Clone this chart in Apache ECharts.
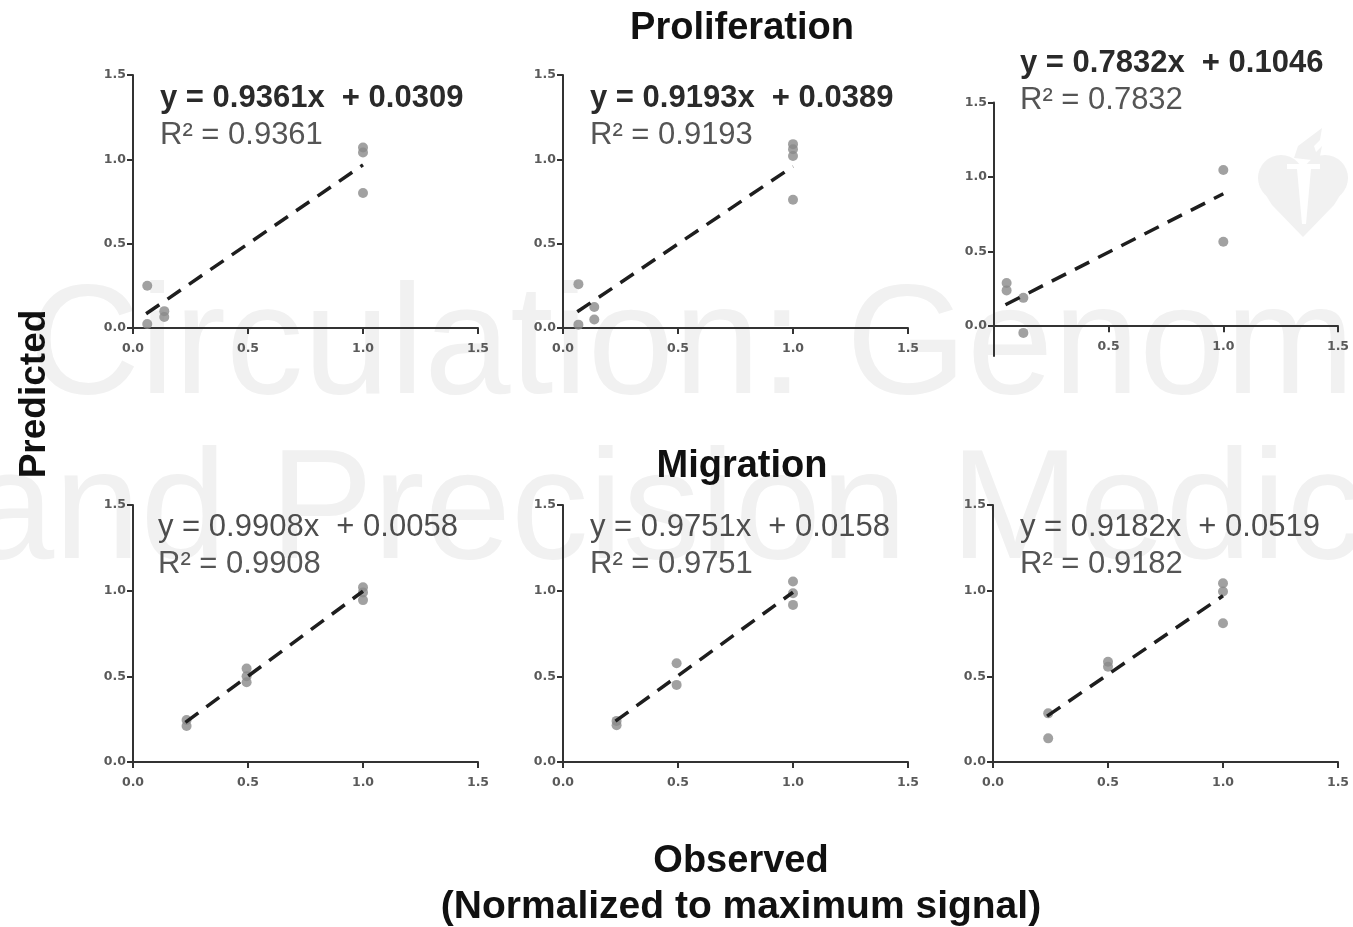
<!DOCTYPE html>
<html>
<head>
<meta charset="utf-8">
<script src="https://cdn.jsdelivr.net/npm/echarts@6/dist/echarts.min.js"></script>
<style>
  html, body { margin: 0; padding: 0; background: #ffffff; }
  #chart { width: 1353px; height: 927px; }
</style>
</head>
<body>
<div id="chart"></div>
<script>
// Axis ticks shared by every panel
const tickValues = [0, 0.5, 1.0, 1.5];

// Proliferation: observed vs predicted (normalized to maximum signal)
const prolifObserved1  = [0.062, 0.062, 0.136, 0.136, 1.0, 1.0, 1.0];
const prolifPredicted1 = [0.25, 0.024, 0.10, 0.065, 1.07, 1.04, 0.80];
const prolifObserved2  = [0.067, 0.067, 0.136, 0.136, 1.0, 1.0, 1.0, 1.0];
const prolifPredicted2 = [0.26, 0.02, 0.125, 0.05, 1.09, 1.06, 1.02, 0.76];
const prolifObserved3  = [0.055, 0.055, 0.128, 0.128, 1.0, 1.0];
const prolifPredicted3 = [0.29, 0.24, 0.19, -0.045, 1.047, 0.566];

// Migration: observed vs predicted
const migrObserved1  = [0.233, 0.233, 0.494, 0.494, 0.494, 1.0, 1.0, 1.0];
const migrPredicted1 = [0.245, 0.21, 0.545, 0.50, 0.465, 1.02, 0.99, 0.945];
const migrObserved2  = [0.233, 0.233, 0.494, 0.494, 1.0, 1.0, 1.0];
const migrPredicted2 = [0.24, 0.215, 0.576, 0.45, 1.053, 0.985, 0.917];
const migrObserved3  = [0.24, 0.24, 0.5, 0.5, 1.0, 1.0, 1.0];
const migrPredicted3 = [0.284, 0.138, 0.585, 0.556, 1.043, 0.995, 0.81];

// Linear fits for each panel (proliferation 1-3, migration 1-3)
const fitSlopes     = [0.9361, 0.9193, 0.7832, 0.9908, 0.9751, 0.9182];
const fitIntercepts = [0.0309, 0.0389, 0.1046, 0.0058, 0.0158, 0.0519];
const fitR2         = [0.9361, 0.9193, 0.7832, 0.9908, 0.9751, 0.9182];

const observedSets  = [prolifObserved1, prolifObserved2, prolifObserved3, migrObserved1, migrObserved2, migrObserved3];
const predictedSets = [prolifPredicted1, prolifPredicted2, prolifPredicted3, migrPredicted1, migrPredicted2, migrPredicted3];

// Layout of the six panels (pixels)
const layout = [
  { left: 133, top: 75,    width: 345, height: 253,   yMin: 0,    eqX: 160,  eqY: 98,  eqBold: true },
  { left: 563, top: 75,    width: 345, height: 253,   yMin: 0,    eqX: 590,  eqY: 98,  eqBold: true },
  { left: 994, top: 102.5, width: 344, height: 253.5, yMin: -0.2, eqX: 1020, eqY: 63,  eqBold: true },
  { left: 133, top: 505,   width: 345, height: 257,   yMin: 0,    eqX: 158,  eqY: 527, eqBold: false },
  { left: 563, top: 505,   width: 345, height: 257,   yMin: 0,    eqX: 590,  eqY: 527, eqBold: false },
  { left: 993, top: 505,   width: 345, height: 257,   yMin: 0,    eqX: 1020, eqY: 527, eqBold: false }
];

const AXIS_COLOR = '#333333';
const tickFont = "'DejaVu Sans', Verdana, sans-serif";
const textFont = "'Liberation Sans', Arial, Helvetica, sans-serif";
const MARK_GREY = '#f1f1f1';
const X_LABEL_GAP = 14;

const grids = [], xAxes = [], yAxes = [], series = [], graphics = [];

layout.forEach((p, i) => {
  grids.push({ left: p.left, top: p.top, width: p.width, height: p.height, containLabel: false });

  const labelStyle = {
    fontFamily: tickFont, fontWeight: 'bold', fontSize: 12.5, color: '#5a5a5a',
    formatter: v => v.toFixed(1)
  };

  // x labels sit under the zero line, which is above the grid bottom when y starts below 0
  const zeroOffset = p.height * (0 - p.yMin) / (1.5 - p.yMin);
  xAxes.push({
    type: 'value', gridIndex: i, min: 0, max: 1.5, interval: 0.5,
    axisLine: { show: true, onZero: true, lineStyle: { color: AXIS_COLOR, width: 2 } },
    axisTick: { show: true, length: 6, lineStyle: { color: AXIS_COLOR, width: 2 } },
    axisLabel: Object.assign({ margin: X_LABEL_GAP - zeroOffset, showMinLabel: p.yMin === 0 }, labelStyle),
    splitLine: { show: false }
  });

  yAxes.push({
    type: 'value', gridIndex: i, min: p.yMin, max: 1.5,
    axisLine: { show: true, onZero: true, lineStyle: { color: AXIS_COLOR, width: 2 } },
    axisTick: { show: true, length: 6, customValues: tickValues, lineStyle: { color: AXIS_COLOR, width: 2 } },
    axisLabel: Object.assign({ margin: 7, customValues: tickValues }, labelStyle),
    splitLine: { show: false }
  });

  const obs = observedSets[i], pred = predictedSets[i];
  series.push({
    type: 'scatter', xAxisIndex: i, yAxisIndex: i, z: 2,
    symbol: 'circle', symbolSize: 10,
    itemStyle: { color: '#8a8a8a' },
    data: obs.map((x, k) => [x, pred[k]])
  });

  // Fitted line drawn across the observed range
  const x0 = Math.min(...obs) - 0.005, x1 = Math.max(...obs);
  const m = fitSlopes[i], b = fitIntercepts[i];
  series.push({
    type: 'line', xAxisIndex: i, yAxisIndex: i, z: 3,
    symbol: 'none', silent: true,
    lineStyle: { color: '#1e1e1e', width: 3.5, type: [16, 10] },
    data: [[x0, m * x0 + b], [x1, m * x1 + b]]
  });

  graphics.push({
    type: 'text', x: p.eqX, y: p.eqY, z: 10,
    style: {
      text: 'y = ' + m.toFixed(4) + 'x  + ' + b.toFixed(4),
      font: (p.eqBold ? 'bold ' : '') + '31px ' + textFont,
      fill: p.eqBold ? '#2a2a2a' : '#4d4d4d',
      verticalAlign: 'middle'
    }
  });
  graphics.push({
    type: 'text', x: p.eqX, y: p.eqY + 37, z: 10,
    style: {
      text: 'R\u00B2 = ' + fitR2[i].toFixed(4),
      font: '31px ' + textFont,
      fill: '#555555',
      verticalAlign: 'middle'
    }
  });
});

// Faint publisher watermark behind the panels
graphics.push({
  type: 'text', x: 28, y: 350, z: -10,
  style: { text: 'Circulation: Genomic', font: '155px ' + textFont, fill: MARK_GREY, verticalAlign: 'middle' }
});
graphics.push({
  type: 'text', x: -32, y: 515, z: -10,
  style: { text: 'and Precision Medicine', font: '155px ' + textFont, fill: MARK_GREY, verticalAlign: 'middle' }
});
// Heart-and-torch emblem
graphics.push({ type: 'circle', z: -10, shape: { cx: 1281, cy: 178, r: 23 }, style: { fill: MARK_GREY } });
graphics.push({ type: 'circle', z: -10, shape: { cx: 1325, cy: 178, r: 23 }, style: { fill: MARK_GREY } });
graphics.push({
  type: 'polygon', z: -10,
  shape: { points: [[1259, 184], [1303, 170], [1347, 184], [1334, 205], [1303, 237], [1272, 205]] },
  style: { fill: MARK_GREY }
});
graphics.push({
  type: 'polygon', z: -10,
  shape: { points: [[1294, 158], [1298, 146], [1310, 137], [1322, 128], [1320, 140], [1314, 146], [1316, 152], [1322, 146], [1320, 156], [1312, 160]] },
  style: { fill: MARK_GREY }
});
graphics.push({
  type: 'polygon', z: -9,
  shape: { points: [[1287, 164], [1320, 164], [1320, 169], [1311, 169], [1306, 224], [1302, 224], [1297, 169], [1287, 169]] },
  style: { fill: '#ffffff' }
});

// Section titles and shared axis titles
const titleFont = 'bold 38px ' + textFont;
graphics.push({
  type: 'text', x: 742, y: 29, z: 10,
  style: { text: 'Proliferation', font: titleFont, fill: '#111111', align: 'center', verticalAlign: 'middle' }
});
graphics.push({
  type: 'text', x: 742, y: 467, z: 10,
  style: { text: 'Migration', font: titleFont, fill: '#111111', align: 'center', verticalAlign: 'middle' }
});
graphics.push({
  type: 'text', x: 741, y: 862, z: 10,
  style: { text: 'Observed', font: titleFont, fill: '#111111', align: 'center', verticalAlign: 'middle' }
});
graphics.push({
  type: 'text', x: 741, y: 907, z: 10,
  style: { text: '(Normalized to maximum signal)', font: 'bold 39px ' + textFont, fill: '#111111', align: 'center', verticalAlign: 'middle' }
});
graphics.push({
  type: 'text', x: 35, y: 394, rotation: Math.PI / 2, z: 10,
  style: { text: 'Predicted', font: 'bold 37px ' + textFont, fill: '#111111', align: 'center', verticalAlign: 'middle' }
});

const chart = echarts.init(document.getElementById('chart'), null, { renderer: 'canvas' });
chart.setOption({
  animation: false,
  backgroundColor: '#ffffff',
  grid: grids,
  xAxis: xAxes,
  yAxis: yAxes,
  series: series,
  graphic: { elements: graphics }
});
</script>
</body>
</html>
